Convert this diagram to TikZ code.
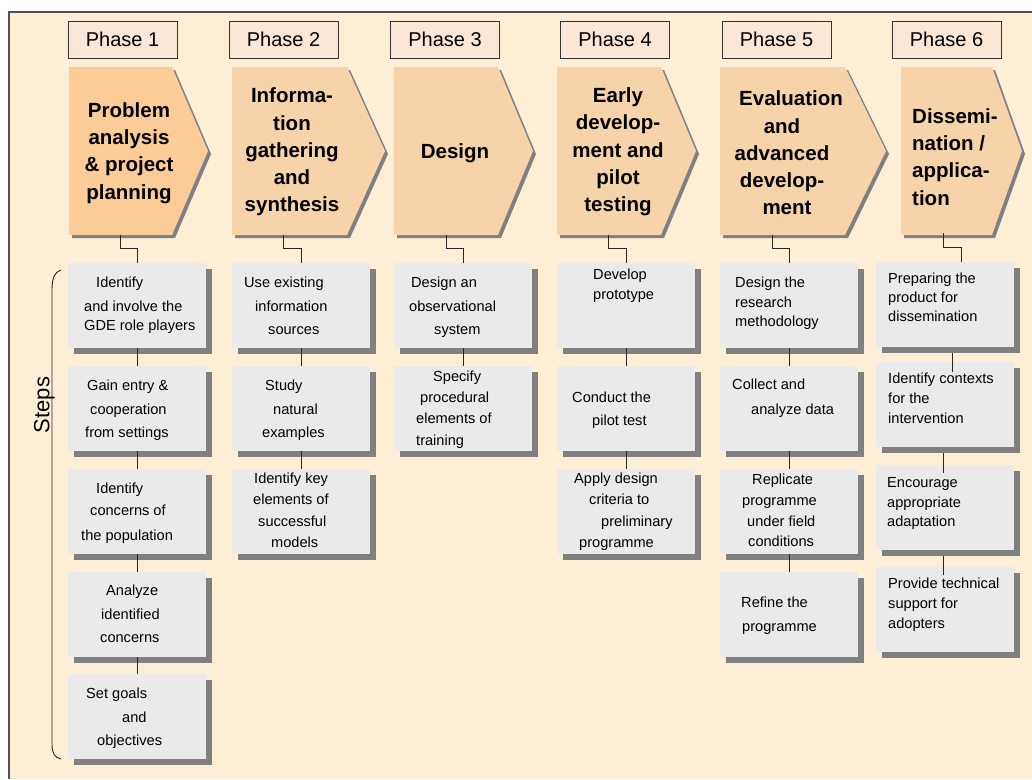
\documentclass[tikz,border=0pt]{standalone}
\usepackage{fontspec}
\setmainfont{Liberation Sans}
\usetikzlibrary{shadows,calc}

\definecolor{paper}{HTML}{FDEFD6}
\definecolor{labelfill}{HTML}{FBE7D7}
\definecolor{chevfirst}{HTML}{FBCB98}
\definecolor{chevfill}{HTML}{F6D3A8}
\definecolor{boxfill}{HTML}{EAEAEA}
\definecolor{shadowgray}{HTML}{808080}
\definecolor{framegray}{HTML}{505050}

% one line of text inside a step box
\newcommand\stepln[4]{\node[steptxt] (#1) at (#2,#3) {#4};}

\begin{document}
\begin{tikzpicture}[x=1pt,y=-1pt,
  phaselabel/.style={draw=black!80, line width=0.9pt, fill=labelfill,
    minimum width=109pt, minimum height=37pt, inner sep=0pt,
    font=\fontsize{20}{24}\selectfont},
  chevshape/.style={drop shadow={shadow xshift=3pt, shadow yshift=-3pt,
    fill=shadowgray, opacity=1}},
  chevtxt/.style={font=\bfseries\fontsize{20.5}{27.3}\selectfont,
    align=center, inner sep=0pt},
  stepbox/.style={fill=boxfill, minimum width=138pt, minimum height=85pt,
    anchor=north west, inner sep=0pt,
    drop shadow={shadow xshift=6pt, shadow yshift=-6pt, fill=shadowgray, opacity=1}},
  steptxt/.style={anchor=base west, inner sep=0pt,
    font=\fontsize{14.6}{17}\selectfont},
  conn/.style={draw=black!85, line width=0.9pt}
]
\useasboundingbox (0,0) rectangle (1032,779);
\fill[white] (0,0) rectangle (1032,779);
\fill[paper] (9,12) rectangle (1032,779);
\draw[framegray, line width=1.2pt] (9,779) -- (9,12) -- (1032,12);

% phase labels
\node[phaselabel] (ph1) at (122.5,39.5) {Phase 1};
\node[phaselabel] (ph2) at (283.5,39.5) {Phase 2};
\node[phaselabel] (ph3) at (445,39.5) {Phase 3};
\node[phaselabel] (ph4) at (615,39.5) {Phase 4};
\node[phaselabel] (ph5) at (776.5,39.5) {Phase 5};
\node[phaselabel] (ph6) at (946.5,39.5) {Phase 6};

% phase chevrons
\fill[chevfirst, chevshape] (69,67) -- (172,67) -- (208,151) -- (172,235) -- (69,235) -- cycle;
\fill[chevfill, chevshape] (232,67) -- (347,67) -- (385,151) -- (347,235) -- (232,235) -- cycle;
\fill[chevfill, chevshape] (394,67) -- (498,67) -- (533,151) -- (498,235) -- (394,235) -- cycle;
\fill[chevfill, chevshape] (557,67) -- (661,67) -- (696,151) -- (661,235) -- (557,235) -- cycle;
\fill[chevfill, chevshape] (720,67) -- (845,67) -- (886,151) -- (845,235) -- (720,235) -- cycle;
\fill[chevfill, chevshape] (901,67) -- (992,67) -- (1022,151) -- (992,235) -- (901,235) -- cycle;

\node[chevtxt] (ct1) at (129,153) {Problem\\analysis\\\& project\\planning};
\node[chevtxt] (ct2) at (292,152) {Informa-\\tion\\gathering\\and\\synthesis};
\node[chevtxt] (ct3) at (455,153) {Design};
\node[chevtxt] (ct4) at (618,152) {Early\\develop-\\ment and\\pilot\\testing};
\node[chevtxt] (ct5) at (782,153) {\hspace*{18pt}Evaluation\\and\\advanced\\develop-\\\hspace*{10pt}ment};
\node[chevtxt, align=left, anchor=west] (ct6) at (912,157) {Dissemi-\\nation /\\applica-\\tion};

\coordinate (p1) at (120,235);
\coordinate (p2) at (283,235);
\coordinate (p3) at (446,235);
\coordinate (p4) at (608,235);
\coordinate (p5) at (772,235);
\coordinate (p6) at (943,233);

% step boxes
\node[stepbox] (s11) at (68,263) {};
\node[stepbox] (s12) at (68,366) {};
\node[stepbox] (s13) at (68,469) {};
\node[stepbox] (s14) at (68,572) {};
\node[stepbox] (s15) at (68,674) {};

\node[stepbox] (s21) at (232,263) {};
\node[stepbox] (s22) at (232,366) {};
\node[stepbox] (s23) at (232,469) {};

\node[stepbox] (s31) at (394,263) {};
\node[stepbox] (s32) at (394,366) {};

\node[stepbox] (s41) at (557,263) {};
\node[stepbox] (s42) at (557,366) {};
\node[stepbox] (s43) at (557,469) {};

\node[stepbox] (s51) at (720,263) {};
\node[stepbox] (s52) at (720,366) {};
\node[stepbox] (s53) at (720,469) {};
\node[stepbox] (s54) at (720,572) {};

\node[stepbox] (s61) at (876,262) {};
\node[stepbox] (s62) at (876,362) {};
\node[stepbox] (s63) at (876,465) {};
\node[stepbox] (s64) at (876,567) {};

% connectors from each phase to its first step
\draw[conn] (p1) -- ++(0,13) -| (s11.north);
\draw[conn] (p2) -- ++(0,13) -| (s21.north);
\draw[conn] (p3) -- ++(0,13) -| (s31.north);
\draw[conn] (p4) -- ++(0,13) -| (s41.north);
\draw[conn] (p5) -- ++(0,13) -| (s51.north);
\draw[conn] (p6) -- ++(0,14) -| ([xshift=16pt]s61.north);

% connectors between consecutive steps
\draw[conn] (s11.south) -- (s12.north);
\draw[conn] (s12.south) -- (s13.north);
\draw[conn] (s13.south) -- (s14.north);
\draw[conn] (s14.south) -- (s15.north);
\draw[conn] (s21.south) -- (s22.north);
\draw[conn] (s22.south) -- (s23.north);
\draw[conn] (s31.south) -- (s32.north);
\draw[conn] (s41.south) -- (s42.north);
\draw[conn] (s42.south) -- (s43.north);
\draw[conn] (s51.south) -- (s52.north);
\draw[conn] (s52.south) -- (s53.north);
\draw[conn] (s53.south) -- (s54.north);
\draw[conn] ([xshift=7pt,yshift=-6pt]s61.south) -- ([xshift=7pt,yshift=-10pt]s62.north);
\draw[conn] ([xshift=-2pt,yshift=-6pt]s62.south) -- ([xshift=-2pt,yshift=-8pt]s63.north);
\draw[conn] ([xshift=-2pt,yshift=-6pt]s63.south) -- ([xshift=-2pt,yshift=-8pt]s64.north);

% step texts, column 1
\stepln{t11a}{96}{287}{Identify}
\stepln{t11b}{84}{311}{and involve the}
\stepln{t11c}{84}{330}{GDE role players}
\stepln{t12a}{87}{390}{Gain entry \&}
\stepln{t12b}{90}{414}{cooperation}
\stepln{t12c}{85}{437}{from settings}
\stepln{t13a}{96}{493}{Identify}
\stepln{t13b}{90}{515}{concerns of}
\stepln{t13c}{81}{540}{the population}
\stepln{t14a}{106}{595}{Analyze}
\stepln{t14b}{101}{619}{identified}
\stepln{t14c}{100}{642}{concerns}
\stepln{t15a}{86}{698}{Set goals}
\stepln{t15b}{122}{722}{and}
\stepln{t15c}{97}{745}{objectives}

% column 2
\stepln{t21a}{244}{287}{Use existing}
\stepln{t21b}{255}{311}{information}
\stepln{t21c}{268}{334}{sources}
\stepln{t22a}{265}{390}{Study}
\stepln{t22b}{273}{414}{natural}
\stepln{t22c}{262}{437}{examples}
\stepln{t23a}{254}{483}{Identify key}
\stepln{t23b}{253}{504}{elements of}
\stepln{t23c}{258}{526}{successful}
\stepln{t23d}{271}{547}{models}

% column 3
\stepln{t31a}{411}{287}{Design an}
\stepln{t31b}{409}{311}{observational}
\stepln{t31c}{434}{334}{system}
\stepln{t32a}{433}{381}{Specify}
\stepln{t32b}{420}{402}{procedural}
\stepln{t32c}{416}{423}{elements of}
\stepln{t32d}{416}{445}{training}

% column 4
\stepln{t41a}{593}{279}{Develop}
\stepln{t41b}{593}{299}{prototype}
\stepln{t42a}{572}{402}{Conduct the}
\stepln{t42b}{592}{425}{pilot test}
\stepln{t43a}{574}{483}{Apply design}
\stepln{t43b}{589}{504}{criteria to}
\stepln{t43c}{601}{526}{preliminary}
\stepln{t43d}{579}{547}{programme}

% column 5
\stepln{t51a}{735}{287}{Design the}
\stepln{t51b}{735}{307}{research}
\stepln{t51c}{735}{326}{methodology}
\stepln{t52a}{732}{389}{Collect and}
\stepln{t52b}{751}{414}{analyze data}
\stepln{t53a}{752}{484}{Replicate}
\stepln{t53b}{742}{505}{programme}
\stepln{t53c}{747}{526}{under field}
\stepln{t53d}{748}{546}{conditions}
\stepln{t54a}{741}{607}{Refine the}
\stepln{t54b}{742}{631}{programme}

% column 6
\stepln{t61a}{888}{283}{Preparing the}
\stepln{t61b}{888}{302}{product for}
\stepln{t61c}{888}{321}{dissemination}
\stepln{t62a}{888}{383}{Identify contexts}
\stepln{t62b}{888}{403}{for the}
\stepln{t62c}{888}{423}{intervention}
\stepln{t63a}{887}{487}{Encourage}
\stepln{t63b}{887}{507}{appropriate}
\stepln{t63c}{887}{526}{adaptation}
\stepln{t64a}{888}{588}{Provide technical}
\stepln{t64b}{888}{608}{support for}
\stepln{t64c}{888}{628}{adopters}

% bracket grouping the steps
\draw[black!85, line width=0.9pt] (61,270) .. controls (55,272) and (52,277) .. (52,290)
  -- (52,745) .. controls (52,753) and (55,758) .. (61,759);
\draw[black!85, line width=0.9pt] (52,397) -- (55,397);
\node[rotate=90, inner sep=0pt, font=\fontsize{22}{26}\selectfont] (steps) at (44,405) {Steps};
\end{tikzpicture}
\end{document}
